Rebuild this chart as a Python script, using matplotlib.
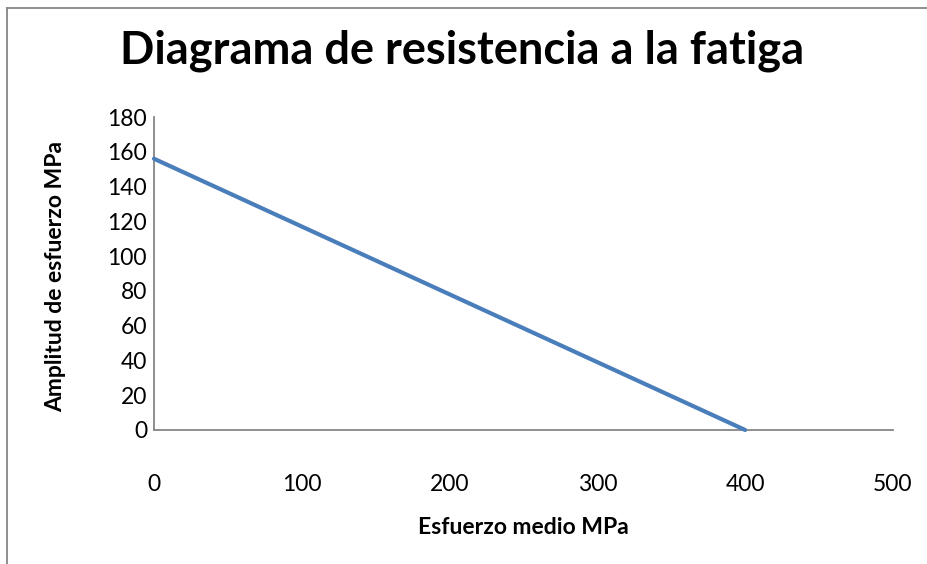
import numpy as np
import matplotlib.pyplot as plt
from matplotlib.lines import Line2D

plt.rcParams["font.family"] = ["Lato", "DejaVu Sans"]

esfuerzo_medio = [0, 400]
amplitud = [156, 0]
x_ticks = [0, 100, 200, 300, 400, 500]
y_ticks = [0, 20, 40, 60, 80, 100, 120, 140, 160, 180]

W, H = 928, 564
fig = plt.figure(figsize=(W / 100, H / 100), dpi=100)
ax = fig.add_axes([154 / W, 1 - 430 / H, (893 - 154) / W, (430 - 117) / H])

ax.plot(esfuerzo_medio, amplitud, color="#4a7ebb", linewidth=3.0,
        solid_capstyle="round", clip_on=False, zorder=3)

ax.set_xlim(0, 500)
ax.set_ylim(0, 180)
ax.set_xticks(x_ticks)
ax.set_yticks(y_ticks)
ax.tick_params(axis="both", length=0, labelsize=16.5, colors="black")
ax.tick_params(axis="x", pad=32)
ax.tick_params(axis="y", pad=5)

for side in ["top", "right"]:
    ax.spines[side].set_visible(False)
for side in ["left", "bottom"]:
    ax.spines[side].set_color("#868686")
    ax.spines[side].set_linewidth(1.3)

fig.text(462 / W, 1 - 51 / H, "Diagrama de resistencia a la fatiga",
         ha="center", va="center", fontsize=32.5, fontweight="bold")
fig.text(523 / W, 1 - 528 / H, "Esfuerzo medio MPa",
         ha="center", va="center", fontsize=16.5, fontweight="bold")
fig.text(56 / W, 1 - 277 / H, "Amplitud de esfuerzo MPa",
         ha="center", va="center", fontsize=16.5, fontweight="bold", rotation=90)

# chart area border (only top and left edges visible in the crop)
fig.add_artist(Line2D([7 / W, 7 / W], [0, 1 - 8 / H], transform=fig.transFigure,
                      color="#868686", linewidth=1.3))
fig.add_artist(Line2D([7 / W, 1], [1 - 8 / H, 1 - 8 / H], transform=fig.transFigure,
                      color="#868686", linewidth=1.3))

fig.savefig("out.png", dpi=100)
